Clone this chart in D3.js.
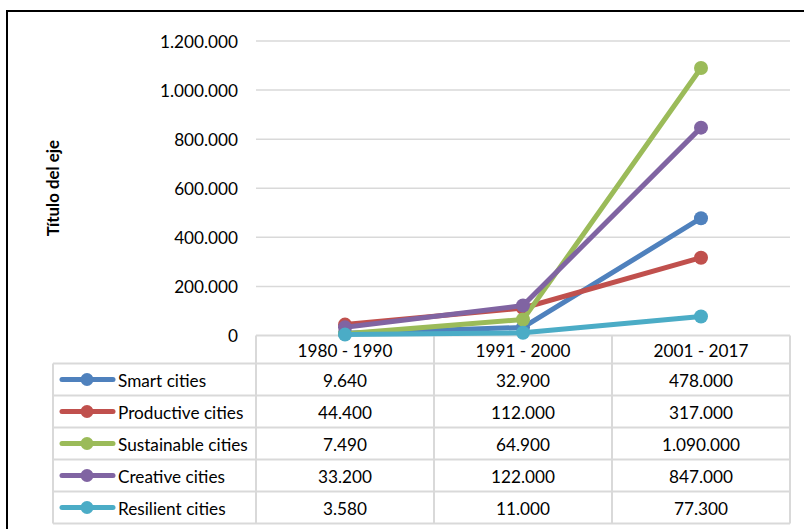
<!DOCTYPE html>
<html><head><meta charset="utf-8">
<script src="https://cdn.jsdelivr.net/npm/d3@7"></script>
<style>body{margin:0;background:#fff}svg{display:block}</style>
</head><body>
<svg id="c" width="804" height="529"></svg>
<script>
const categories = ["1980 - 1990", "1991 - 2000", "2001 - 2017"];
const seriesNames = ["Smart cities", "Productive cities", "Sustainable cities", "Creative cities", "Resilient cities"];
const smart = [9640, 32900, 478000];
const productive = [44400, 112000, 317000];
const sustainable = [7490, 64900, 1090000];
const creative = [33200, 122000, 847000];
const resilient = [3580, 11000, 77300];
const yTicks = [0, 200000, 400000, 600000, 800000, 1000000, 1200000];
const colors = ["#4f81bd", "#c0504d", "#9bbb59", "#8064a2", "#4bacc6"];
const axisTitle = "Título del eje";

const series = [smart, productive, sustainable, creative, resilient];
const svg = d3.select("#c");
const font = "Lato, 'Open Sans', sans-serif";
const fs = 17.2;
const fmt = v => v.toLocaleString("de-DE");

// outer chart border (clipped by window)
svg.append("rect").attr("x", 7).attr("y", 11).attr("width", 820).attr("height", 540)
  .attr("fill", "none").attr("stroke", "#000").attr("stroke-width", 2);

const x = d3.scaleBand().domain(categories).range([256, 790]);
const y = d3.scaleLinear().domain([0, 1200000]).range([335.5, 41]);

// gridlines
svg.append("g").selectAll("line").data(yTicks.filter(t => t > 0)).join("line")
  .attr("x1", 256).attr("x2", 790).attr("y1", d => y(d)).attr("y2", d => y(d))
  .attr("stroke", "#d9d9d9").attr("stroke-width", 1.5);

// y axis labels
const yAxis = d3.axisLeft(y).tickValues(yTicks).tickFormat(fmt).tickSize(0).tickPadding(0);
const ga = svg.append("g").attr("transform", "translate(238,0)").call(yAxis);
ga.select(".domain").remove();
ga.selectAll("text").attr("font-family", font).attr("font-size", fs).attr("fill", "#000").attr("dy", "0.35em");

// axis title
svg.append("text").attr("transform", `translate(59,${(y(0)+y(1200000))/2}) rotate(-90)`)
  .attr("text-anchor", "middle").attr("font-family", font).attr("font-weight", "bold")
  .attr("font-size", 16.8).text(axisTitle);

// table
const tableTop = 335.5, headH = 28, rowH = 32, tableLeft = 53;
const tg = svg.append("g").attr("stroke", "#d9d9d9").attr("stroke-width", 2);
tg.append("line").attr("x1", 256).attr("x2", 790).attr("y1", tableTop).attr("y2", tableTop);
for (let i = 0; i <= seriesNames.length; i++) {
  const yy = tableTop + headH + i * rowH;
  tg.append("line").attr("x1", tableLeft).attr("x2", 790).attr("y1", yy).attr("y2", yy);
}
const tableBottom = tableTop + headH + seriesNames.length * rowH;
tg.append("line").attr("x1", tableLeft).attr("x2", tableLeft).attr("y1", tableTop + headH).attr("y2", tableBottom);
categories.forEach(c => {
  tg.append("line").attr("x1", x(c)).attr("x2", x(c)).attr("y1", tableTop).attr("y2", tableBottom);
});
tg.append("line").attr("x1", 790).attr("x2", 790).attr("y1", tableTop).attr("y2", tableBottom);

// header texts
svg.append("g").selectAll("text").data(categories).join("text")
  .attr("x", d => x(d) + x.bandwidth() / 2).attr("y", tableTop + headH / 2 + 1).attr("dy", "0.35em")
  .attr("text-anchor", "middle").attr("font-family", font).attr("font-size", fs).text(d => d);

// rows
seriesNames.forEach((name, i) => {
  const cy = tableTop + headH + i * rowH + rowH / 2;
  const g = svg.append("g");
  g.append("line").attr("x1", 62).attr("x2", 113).attr("y1", cy).attr("y2", cy)
    .attr("stroke", colors[i]).attr("stroke-width", 5).attr("stroke-linecap", "round");
  g.append("circle").attr("cx", 87).attr("cy", cy).attr("r", 6.5).attr("fill", colors[i]);
  g.append("text").attr("x", 118).attr("y", cy + 1).attr("dy", "0.35em")
    .attr("font-family", font).attr("font-size", fs).text(name);
  series[i].forEach((v, j) => {
    g.append("text").attr("x", x(categories[j]) + x.bandwidth() / 2).attr("y", cy + 1).attr("dy", "0.35em")
      .attr("text-anchor", "middle").attr("font-family", font).attr("font-size", fs).text(fmt(v));
  });
});

// lines & markers
const line = d3.line().x((d, j) => x(categories[j]) + x.bandwidth() / 2).y(d => y(d));
series.forEach((s, i) => {
  const g = svg.append("g");
  g.append("path").attr("d", line(s)).attr("fill", "none").attr("stroke", colors[i])
    .attr("stroke-width", 5).attr("stroke-linejoin", "round").attr("stroke-linecap", "round");
  g.selectAll("circle").data(s).join("circle")
    .attr("cx", (d, j) => x(categories[j]) + x.bandwidth() / 2).attr("cy", d => y(d))
    .attr("r", 7).attr("fill", colors[i]);
});
</script>
</body></html>
